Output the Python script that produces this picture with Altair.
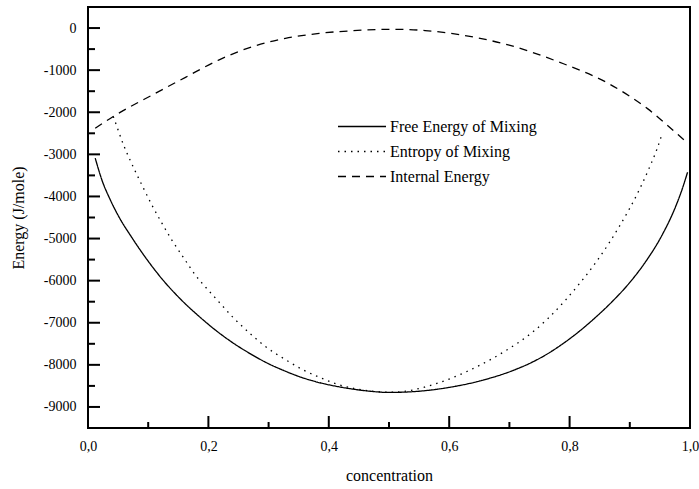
import altair as alt
import pandas as pd

# Free energy of mixing (solid)
free_x = [0.012, 0.023, 0.037, 0.051, 0.073, 0.095, 0.123, 0.151, 0.187, 0.214,
          0.242, 0.27, 0.298, 0.326, 0.353, 0.381, 0.409, 0.437, 0.464, 0.5,
          0.542, 0.598, 0.653, 0.709, 0.737, 0.764, 0.792, 0.82, 0.845, 0.87,
          0.898, 0.926, 0.953, 0.976, 0.987, 0.996]
free_y = [-3090, -3605, -4080, -4475, -4980, -5440, -5960, -6400, -6880, -7200,
          -7490, -7740, -7960, -8140, -8290, -8410, -8500, -8570, -8620, -8655,
          -8635, -8540, -8375, -8117, -7943, -7732, -7466, -7158, -6848, -6508,
          -6077, -5556, -4935, -4245, -3827, -3422]

# Entropy of mixing (dotted)
ent_x = [0.042, 0.048, 0.059, 0.071, 0.092, 0.106, 0.123, 0.139, 0.159, 0.178,
         0.2, 0.214, 0.242, 0.27, 0.298, 0.328, 0.356, 0.387, 0.414, 0.445,
         0.476, 0.503, 0.53, 0.559, 0.603, 0.648, 0.692, 0.737, 0.764, 0.792,
         0.817, 0.845, 0.865, 0.881, 0.898, 0.912, 0.933, 0.945, 0.954]
ent_y = [-2100, -2340, -2775, -3170, -3800, -4200, -4640, -5030, -5460, -5860,
         -6230, -6450, -6890, -7265, -7600, -7875, -8110, -8310, -8460, -8570,
         -8630, -8650, -8620, -8530, -8320, -8030, -7680, -7240, -6900, -6480,
         -6060, -5540, -5120, -4750, -4330, -3950, -3300, -2880, -2500]

# Internal energy (dashed)
int_x = [0.012, 0.042, 0.112, 0.162, 0.217, 0.273, 0.328, 0.384, 0.44, 0.495,
         0.52, 0.56, 0.614, 0.66, 0.698, 0.781, 0.864, 0.9, 0.93, 0.956, 0.98, 0.995]
int_y = [-2380, -2100, -1550, -1170, -760, -443, -245, -127, -63, -32,
         -32, -60, -150, -270, -400, -800, -1312, -1620, -1920, -2230, -2530, -2720]

series_names = ["Free Energy of Mixing", "Entropy of Mixing", "Internal Energy"]
series_dash = [[1, 0], [1.5, 5], [8, 6]]

x_major = [0.2, 0.4, 0.6, 0.8]
x_minor = [0.1, 0.3, 0.5, 0.7, 0.9]
x_labels = [0.0, 0.2, 0.4, 0.6, 0.8, 1.0]
y_major = [-9000, -8000, -7000, -6000, -5000, -4000, -3000, -2000, -1000, 0]
y_minor = [-8500, -7500, -6500, -5500, -4500, -3500, -2500, -1500, -500]

rows = []
for name, xs, ys in zip(series_names, [free_x, ent_x, int_x], [free_y, ent_y, int_y]):
    for i, (a, b) in enumerate(zip(xs, ys)):
        rows.append({"series": name, "concentration": a, "energy": b, "idx": i})
df = pd.DataFrame(rows)

W, H = 602, 421
FONT = "Liberation Serif"
x_scale = alt.Scale(domain=[0, 1.0], nice=False, zero=False)
y_scale = alt.Scale(domain=[-9500, 500], nice=False, zero=False)

lines = alt.Chart(df).mark_line(color="black", strokeWidth=1.3, interpolate="monotone").encode(
    x=alt.X("concentration:Q", scale=x_scale, axis=alt.Axis(
        values=x_labels, labelExpr="replace(format(datum.value, '.1f'), '.', ',')",
        ticks=False, domain=False, grid=False, labelFlush=False, labelOverlap=False,
        labelFont=FONT, labelFontSize=14, labelColor="black", labelPadding=11,
        title="concentration", titleFont=FONT, titleFontSize=16, titleFontWeight="normal",
        titleColor="black", titleX=301, titleY=47, titleBaseline="middle")),
    y=alt.Y("energy:Q", scale=y_scale, axis=alt.Axis(
        values=y_major, labelExpr="'' + datum.value",
        ticks=False, domain=False, grid=False, labelOverlap=False,
        labelFont=FONT, labelFontSize=14, labelColor="black", labelPadding=12,
        title="Energy (J/mole)", titleFont=FONT, titleFontSize=16, titleFontWeight="normal",
        titleColor="black", titleX=-70, titleY=210.5, titleAngle=-90, titleBaseline="middle")),
    strokeDash=alt.StrokeDash("series:N", scale=alt.Scale(domain=series_names, range=series_dash),
        legend=alt.Legend(orient="none", legendX=249, legendY=107, title=None, padding=0,
                          rowPadding=0, clipHeight=25, labelFont=FONT, labelFontSize=16,
                          labelColor="black", labelOffset=3, labelLimit=0, symbolType="stroke",
                          symbolSize=2304, symbolStrokeWidth=1.3, symbolStrokeColor="black")),
    order=alt.Order("idx:Q"),
)

# Inward-pointing tick marks along the left and bottom frame
y_major_ticks = alt.Chart(pd.DataFrame({"v": y_major})).mark_rule(color="black", strokeWidth=2).encode(
    y=alt.Y("v:Q", scale=y_scale), x=alt.value(0), x2=alt.value(12))
y_minor_ticks = alt.Chart(pd.DataFrame({"v": y_minor})).mark_rule(color="black", strokeWidth=2).encode(
    y=alt.Y("v:Q", scale=y_scale), x=alt.value(0), x2=alt.value(7))
x_major_ticks = alt.Chart(pd.DataFrame({"v": x_major})).mark_rule(color="black", strokeWidth=2).encode(
    x=alt.X("v:Q", scale=x_scale), y=alt.value(H), y2=alt.value(H - 12))
x_minor_ticks = alt.Chart(pd.DataFrame({"v": x_minor})).mark_rule(color="black", strokeWidth=2).encode(
    x=alt.X("v:Q", scale=x_scale), y=alt.value(H), y2=alt.value(H - 6))

chart = alt.layer(lines, y_major_ticks, y_minor_ticks, x_major_ticks, x_minor_ticks).properties(
    width=W, height=H,
    autosize=alt.AutoSizeParams(type="none"),
    padding={"left": 88, "top": 7, "right": 9, "bottom": 61},
    background="white",
).configure_view(stroke="black", strokeWidth=2)

chart.save("out.html", embed_options={"renderer": "svg", "actions": False})
